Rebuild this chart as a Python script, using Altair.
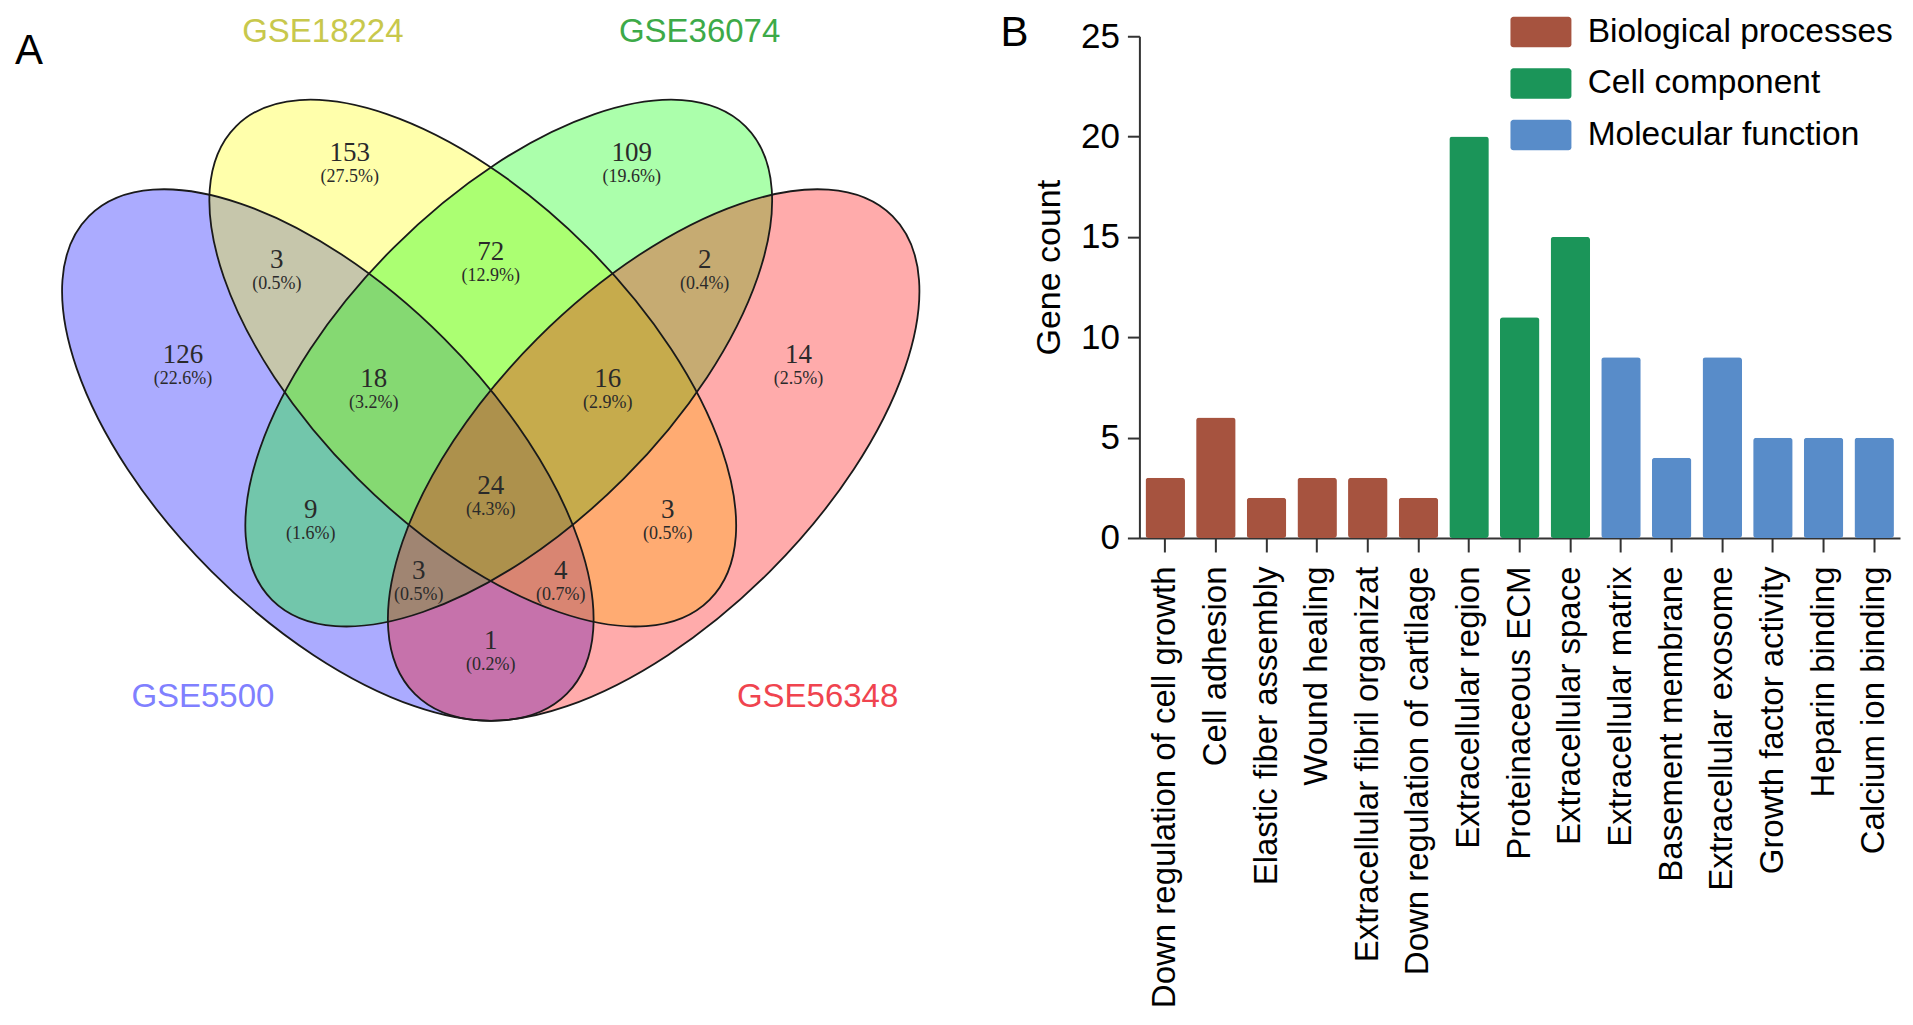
import altair as alt
import pandas as pd

# ---------------- Panel A: Venn diagram ----------------
set_names = ["GSE5500", "GSE18224", "GSE36074", "GSE56348"]
set_fill = ["#0000FF", "#FFFF00", "#00FF00", "#FF0000"]
set_label_color = ["#8080FF", "#C8C84C", "#3DAA48", "#F0444F"]
set_label_x = [203, 323, 700, 818]
set_label_y = [697, 32, 32, 697]

# ellipse geometry (page pixel frame): centre, semi-major axis, rotation
ell_cx = [328, 473, 509, 654]
ell_cy = [455, 363, 363, 455]
ell_a = [338, 335, 335, 338]
ell_angle = [45, 45, 135, 135]
ell_order = [0, 1, 2, 3]

region_counts = ["153", "109", "3", "72", "2", "126", "18", "16", "14", "24", "9", "3", "3", "4", "1"]
region_pcts = ["(27.5%)", "(19.6%)", "(0.5%)", "(12.9%)", "(0.4%)", "(22.6%)", "(3.2%)", "(2.9%)",
               "(2.5%)", "(4.3%)", "(1.6%)", "(0.5%)", "(0.5%)", "(0.7%)", "(0.2%)"]
region_x = [350, 632, 277, 491, 705, 183, 374, 608, 799, 491, 311, 668, 419, 561, 491]
region_y = [153, 153, 260, 252, 260, 355, 379, 379, 355, 486, 510, 510, 571, 571, 641]
pct_y = [177, 177, 284, 276, 284, 379, 403, 403, 379, 510, 534, 534, 595, 595, 665]

panel_letters = ["A", "B"]
panel_x = [29, 1015]
panel_y = [51, 33]

# ---------------- Panel B: GO bar chart ----------------
terms = ["Down regulation of cell growth", "Cell adhesion", "Elastic fiber assembly",
         "Wound healing", "Extracellular fibril organizat", "Down regulation of cartilage",
         "Extracellular region", "Proteinaceous ECM", "Extracellular space",
         "Extracellular matrix", "Basement membrane", "Extracellular exosome",
         "Growth factor activity", "Heparin binding", "Calcium ion binding"]
gene_counts = [3, 6, 2, 3, 3, 2, 20, 11, 15, 9, 4, 9, 5, 5, 5]
term_category = ["Biological processes", "Biological processes", "Biological processes",
                 "Biological processes", "Biological processes", "Biological processes",
                 "Cell component", "Cell component", "Cell component",
                 "Molecular function", "Molecular function", "Molecular function",
                 "Molecular function", "Molecular function", "Molecular function"]
category_names = ["Biological processes", "Cell component", "Molecular function"]
category_colors = ["#A6533F", "#1B9559", "#588CC9"]

SANS = "Liberation Sans"
SERIF = "Liberation Serif"

# Venn frame: plot area in page pixels
W1, H1 = 1132, 700
X0, Y0 = 8, 36
xs = alt.Scale(domain=[X0, X0 + W1], nice=False, zero=False)
ys = alt.Scale(domain=[Y0 + H1, Y0], nice=False, zero=False)

ell_df = pd.DataFrame({"set": set_names, "cx": ell_cx, "cy": ell_cy, "a": ell_a,
                       "angle": ell_angle, "ord": ell_order})
ell_df["sz"] = (2 * ell_df["a"]) ** 2
ellipse_path = "M-1,0A1,0.487,0,1,1,1,0A1,0.487,0,1,1,-1,0Z"

base_ell = alt.Chart(ell_df)
fills = base_ell.mark_point(shape=ellipse_path, filled=True,
                            opacity=1, fillOpacity=0.33, strokeWidth=0).encode(
    x=alt.X("cx:Q", scale=xs, axis=None),
    y=alt.Y("cy:Q", scale=ys, axis=None),
    size=alt.Size("sz:Q", scale=None),
    angle=alt.Angle("angle:Q", scale=None),
    fill=alt.Fill("set:N", scale=alt.Scale(domain=set_names, range=set_fill), legend=None),
    order=alt.Order("ord:Q"),
)
outlines = base_ell.mark_point(shape=ellipse_path, filled=False,
                               opacity=1, stroke="#1a1a1a", strokeWidth=1.8).encode(
    x=alt.X("cx:Q", scale=xs, axis=None),
    y=alt.Y("cy:Q", scale=ys, axis=None),
    size=alt.Size("sz:Q", scale=None),
    angle=alt.Angle("angle:Q", scale=None),
)

reg_df = pd.DataFrame({"count": region_counts, "pct": region_pcts,
                       "x": region_x, "y": region_y, "py": pct_y})
counts_txt = alt.Chart(reg_df).mark_text(font=SERIF, fontSize=27, color="#2a2a2a",
                                         baseline="middle", align="center").encode(
    x=alt.X("x:Q", scale=xs, axis=None), y=alt.Y("y:Q", scale=ys, axis=None), text="count:N")
pcts_txt = alt.Chart(reg_df).mark_text(font=SERIF, fontSize=18, color="#2a2a2a",
                                       baseline="middle", align="center").encode(
    x=alt.X("x:Q", scale=xs, axis=None), y=alt.Y("py:Q", scale=ys, axis=None), text="pct:N")

lab_df = pd.DataFrame({"name": set_names, "x": set_label_x, "y": set_label_y,
                       "c": set_label_color})
set_txt = alt.Chart(lab_df).mark_text(font=SANS, fontSize=33, baseline="middle",
                                      align="center").encode(
    x=alt.X("x:Q", scale=xs, axis=None), y=alt.Y("y:Q", scale=ys, axis=None),
    text="name:N", color=alt.Color("c:N", scale=None))

let_df = pd.DataFrame({"t": panel_letters, "x": panel_x, "y": panel_y})
letters = alt.Chart(let_df).mark_text(font=SANS, fontSize=42, baseline="middle",
                                      align="center", color="black").encode(
    x=alt.X("x:Q", scale=xs, axis=None), y=alt.Y("y:Q", scale=ys, axis=None), text="t:N")

venn = alt.layer(fills, outlines, counts_txt, pcts_txt, set_txt, letters).properties(
    width=W1, height=H1)

# Bar chart
bar_df = pd.DataFrame({"term": terms, "count": gene_counts, "category": term_category})
legend_symbol = ("M-1.8,-1 H1.8 A0.2,0.2,0,0,1,2,-0.8 V0.8 A0.2,0.2,0,0,1,1.8,1 "
                 "H-1.8 A0.2,0.2,0,0,1,-2,0.8 V-0.8 A0.2,0.2,0,0,1,-1.8,-1 Z")

bars = alt.Chart(bar_df).mark_bar(cornerRadius=3).encode(
    x=alt.X("term:N", sort=terms,
            scale=alt.Scale(paddingInner=0.22, paddingOuter=0.12),
            axis=alt.Axis(title=None, labelAngle=270, labelFont=SANS, labelFontSize=33,
                          labelColor="black", labelLimit=1000, labelPadding=14,
                          tickSize=14, tickWidth=2, tickColor="#333333",
                          domainWidth=2, domainColor="#333333")),
    y=alt.Y("count:Q", scale=alt.Scale(domain=[0, 25], nice=False),
            axis=alt.Axis(title="Gene count", values=[0, 5, 10, 15, 20, 25], grid=False,
                          labelFont=SANS, labelFontSize=35, labelColor="black",
                          labelPadding=8, tickSize=12, tickWidth=2, tickColor="#333333",
                          domainWidth=2, domainColor="#333333",
                          titleFont=SANS, titleFontSize=34, titleFontWeight="normal",
                          titleColor="black", titlePadding=14, titleY=231)),
    color=alt.Color("category:N",
                    scale=alt.Scale(domain=category_names, range=category_colors),
                    legend=alt.Legend(title=None, orient="none", legendX=385, legendY=-21,
                                      symbolType=legend_symbol, symbolSize=930,
                                      symbolStrokeWidth=0, symbolOpacity=1,
                                      labelFont=SANS, labelFontSize=33.5, labelColor="black",
                                      labelOffset=30, rowPadding=16.5, padding=0,
                                      labelLimit=1000)),
).properties(width=761, height=502)

chart = alt.hconcat(venn, bars, spacing=0, bounds="flush").resolve_scale(
    x="independent", y="independent", color="independent"
).properties(
    padding={"left": 0, "top": 4, "right": 5, "bottom": 5}
).configure_view(stroke=None)

chart.save("out.html", embed_options={"renderer": "svg", "actions": False})
